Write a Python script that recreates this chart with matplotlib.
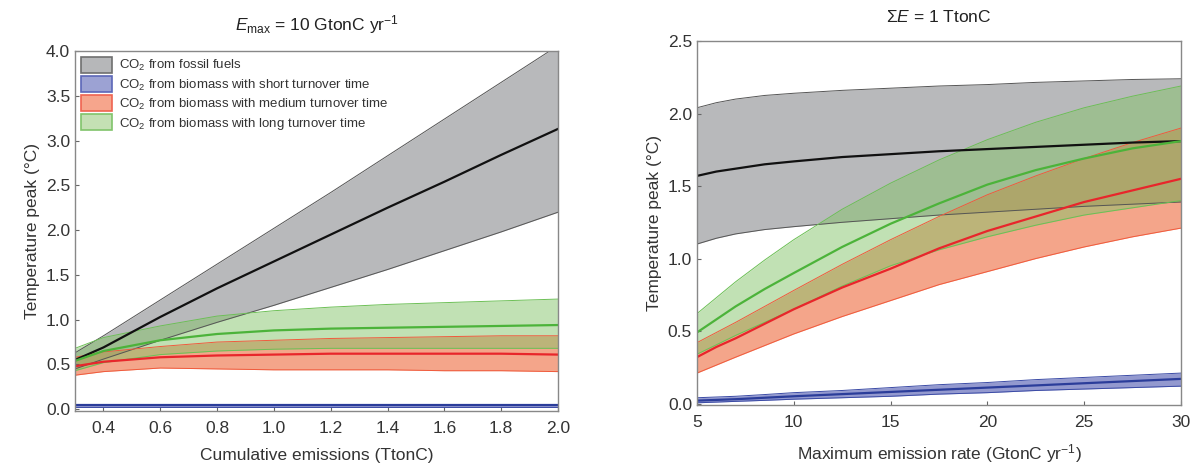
import matplotlib
matplotlib.use("Agg")
import matplotlib.pyplot as plt
from matplotlib.patches import Patch
from matplotlib.ticker import FormatStrFormatter

plt.rcParams["font.family"] = ["Liberation Sans", "DejaVu Sans"]
plt.rcParams["mathtext.fontset"] = "custom"
plt.rcParams["mathtext.rm"] = "Liberation Sans"
plt.rcParams["mathtext.it"] = "Liberation Sans:italic"

# left panel: E_max = 10 GtonC/yr
x_cum = [0.3, 0.4, 0.6, 0.8, 1.0, 1.2, 1.4, 1.6, 1.8, 2.0]
fos_mid_l = [0.55, 0.69, 1.03, 1.35, 1.65, 1.95, 2.25, 2.54, 2.84, 3.13]
fos_hi_l = [0.63, 0.82, 1.22, 1.62, 2.02, 2.42, 2.83, 3.24, 3.65, 4.06]
fos_lo_l = [0.45, 0.56, 0.77, 0.97, 1.16, 1.36, 1.56, 1.77, 1.98, 2.20]
sho_mid_l = [0.045, 0.045, 0.045, 0.045, 0.045, 0.045, 0.045, 0.045, 0.045, 0.045]
sho_hi_l = [0.06, 0.06, 0.06, 0.06, 0.06, 0.06, 0.06, 0.06, 0.06, 0.06]
sho_lo_l = [0.025, 0.025, 0.025, 0.025, 0.025, 0.025, 0.025, 0.025, 0.025, 0.025]
med_mid_l = [0.48, 0.53, 0.58, 0.60, 0.61, 0.62, 0.62, 0.62, 0.62, 0.61]
med_hi_l = [0.58, 0.64, 0.70, 0.75, 0.77, 0.79, 0.80, 0.81, 0.82, 0.82]
med_lo_l = [0.38, 0.42, 0.46, 0.45, 0.44, 0.44, 0.44, 0.43, 0.43, 0.42]
lng_mid_l = [0.54, 0.65, 0.77, 0.84, 0.88, 0.90, 0.91, 0.92, 0.93, 0.94]
lng_hi_l = [0.68, 0.80, 0.93, 1.04, 1.10, 1.14, 1.17, 1.19, 1.21, 1.23]
lng_lo_l = [0.43, 0.52, 0.61, 0.65, 0.67, 0.68, 0.68, 0.68, 0.68, 0.68]

# right panel: sum E = 1 TtonC
x_rate = [5, 6, 7, 8.5, 10, 12.5, 15, 17.5, 20, 22.5, 25, 27.5, 30]
fos_mid_r = [1.57, 1.60, 1.62, 1.65, 1.67, 1.70, 1.72, 1.74, 1.755, 1.77, 1.785, 1.80, 1.81]
fos_hi_r = [2.04, 2.075, 2.10, 2.125, 2.14, 2.16, 2.175, 2.19, 2.20, 2.215, 2.225, 2.235, 2.24]
fos_lo_r = [1.10, 1.14, 1.17, 1.20, 1.22, 1.25, 1.275, 1.30, 1.32, 1.34, 1.36, 1.375, 1.39]
sho_mid_r = [0.02, 0.025, 0.03, 0.04, 0.05, 0.065, 0.08, 0.095, 0.11, 0.125, 0.14, 0.155, 0.17]
sho_hi_r = [0.04, 0.045, 0.05, 0.062, 0.075, 0.09, 0.11, 0.13, 0.145, 0.165, 0.18, 0.195, 0.21]
sho_lo_r = [0.005, 0.01, 0.015, 0.022, 0.03, 0.04, 0.05, 0.065, 0.075, 0.09, 0.10, 0.11, 0.12]
med_mid_r = [0.32, 0.39, 0.45, 0.55, 0.65, 0.80, 0.93, 1.07, 1.19, 1.29, 1.39, 1.47, 1.55]
med_hi_r = [0.42, 0.49, 0.56, 0.67, 0.78, 0.96, 1.13, 1.29, 1.44, 1.57, 1.69, 1.80, 1.90]
med_lo_r = [0.21, 0.265, 0.32, 0.40, 0.48, 0.60, 0.71, 0.82, 0.91, 1.00, 1.08, 1.15, 1.21]
lng_mid_r = [0.49, 0.58, 0.67, 0.79, 0.90, 1.08, 1.24, 1.38, 1.51, 1.61, 1.69, 1.76, 1.81]
lng_hi_r = [0.62, 0.73, 0.84, 0.99, 1.13, 1.34, 1.52, 1.68, 1.82, 1.94, 2.04, 2.12, 2.19]
lng_lo_r = [0.34, 0.405, 0.47, 0.56, 0.65, 0.81, 0.95, 1.06, 1.15, 1.23, 1.30, 1.35, 1.40]

labels = [
    "CO$_2$ from fossil fuels",
    "CO$_2$ from biomass with short turnover time",
    "CO$_2$ from biomass with medium turnover time",
    "CO$_2$ from biomass with long turnover time",
]

# fill, fill alpha, edge colour, mean line colour
styles = [
    ("#b8b9bb", 1.0, "#555555", "#111111"),
    ("#3a46a8", 0.55, "#3a4aa5", "#2b3d9a"),
    ("#ed693c", 0.6, "#f05a3c", "#e8262b"),
    ("#85c46a", 0.5, "#6cbf55", "#4cb33a"),
]


def draw(ax, x, bands):
    for (lo, mid, hi), (fc, a, ec, lc) in zip(bands, styles):
        ax.fill_between(x, lo, hi, color=fc, alpha=a, lw=0)
        ax.plot(x, lo, color=ec, lw=0.7)
        ax.plot(x, hi, color=ec, lw=0.7)
    for (lo, mid, hi), (fc, a, ec, lc) in zip(bands, styles):
        ax.plot(x, mid, color=lc, lw=1.6)


def style(ax):
    for s in ax.spines.values():
        s.set_color("#888888")
        s.set_linewidth(1.0)
    ax.tick_params(direction="in", length=3, color="#666666", labelsize=12.5,
                   labelcolor="#333333")
    ax.tick_params(axis="x", pad=7)
    ax.set_ylabel("Temperature peak (\u00b0C)", fontsize=12.5, color="#333333")


fig = plt.figure(figsize=(11.93, 4.63), dpi=100)

ax1 = fig.add_axes([0.0629, 0.1123, 0.4048, 0.7775])
draw(ax1, x_cum, [(fos_lo_l, fos_mid_l, fos_hi_l), (sho_lo_l, sho_mid_l, sho_hi_l),
                  (med_lo_l, med_mid_l, med_hi_l), (lng_lo_l, lng_mid_l, lng_hi_l)])
ax1.set_xlim(0.3, 2.0)
ax1.set_ylim(-0.02, 4.0)
ax1.set_xticks([0.4, 0.6, 0.8, 1.0, 1.2, 1.4, 1.6, 1.8, 2.0])
ax1.set_yticks([0.0, 0.5, 1.0, 1.5, 2.0, 2.5, 3.0, 3.5, 4.0])
ax1.xaxis.set_major_formatter(FormatStrFormatter("%.1f"))
ax1.yaxis.set_major_formatter(FormatStrFormatter("%.1f"))
style(ax1)
ax1.set_xlabel("Cumulative emissions (TtonC)", fontsize=12.5, color="#333333",
               labelpad=9)
ax1.set_title("$E_{\\mathrm{max}}$ = 10 GtonC yr$^{-1}$", fontsize=12.5, pad=15,
              color="#222222")

handles = [
    Patch(facecolor="#b6b7b9", edgecolor="#6f6f6f", lw=1.2),
    Patch(facecolor="#9ca2d3", edgecolor="#5c67b8", lw=1.2),
    Patch(facecolor="#f6a58c", edgecolor="#ef6450", lw=1.2),
    Patch(facecolor="#c4e0b4", edgecolor="#80c46b", lw=1.2),
]
ax1.legend(handles, labels, loc="upper left", frameon=False, fontsize=9.5,
           handlelength=2.35, handleheight=1.5, labelspacing=0.2,
           handletextpad=0.5, borderaxespad=0.25, borderpad=0.2,
           labelcolor="#333333")

ax2 = fig.add_axes([0.5842, 0.1253, 0.4057, 0.786])
draw(ax2, x_rate, [(fos_lo_r, fos_mid_r, fos_hi_r), (sho_lo_r, sho_mid_r, sho_hi_r),
                   (med_lo_r, med_mid_r, med_hi_r), (lng_lo_r, lng_mid_r, lng_hi_r)])
ax2.set_xlim(5, 30)
ax2.set_ylim(-0.01, 2.5)
ax2.set_xticks([5, 10, 15, 20, 25, 30])
ax2.set_yticks([0.0, 0.5, 1.0, 1.5, 2.0, 2.5])
ax2.yaxis.set_major_formatter(FormatStrFormatter("%.1f"))
style(ax2)
ax2.set_xlabel("Maximum emission rate (GtonC yr$^{-1}$)", fontsize=12.5,
               color="#333333", labelpad=9)
ax2.set_title("$\\Sigma E$ = 1 TtonC", fontsize=12.5, pad=14, color="#222222")

fig.savefig("out.png", dpi=100)
